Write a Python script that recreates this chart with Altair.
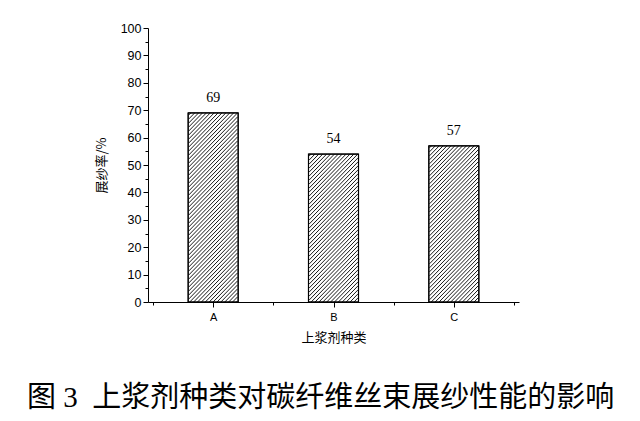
import altair as alt
import pandas as pd
import numpy as np

# ---- data ----
categories = ["A", "B", "C"]
values = [69, 54, 57]
y_ticks = list(range(0, 101, 5))
x_title = "上浆剂种类"
y_title = "展纱率/%"
caption = "图 3\u2002上浆剂种类对碳纤维丝束展纱性能的影响"

# ---- layout (style) ----
W, H = 371, 274
BAR_PX = 50
HATCH_STEP = 4.0
x_domain = [0, len(categories)]
y_domain = [0, 100]
px_per_x = W / (x_domain[1] - x_domain[0])
px_per_y = H / (y_domain[1] - y_domain[0])

pos = [i + 0.5 for i in range(len(categories))]
bars = pd.DataFrame({"cat": categories, "pos": pos, "val": values})

# hatch segments (diagonal "////") clipped to each bar, derived from the bar values
segs = []
for c, p, v in zip(categories, pos, values):
    w = BAR_PX
    h = v * px_per_y
    x0 = p - (BAR_PX / 2) / px_per_x
    cval = -h + HATCH_STEP / 2
    while cval < w:
        ya = max(0.0, -cval)
        yb = min(h, w - cval)
        if yb > ya:
            xa, xb = ya + cval, yb + cval
            segs.append({
                "pos": x0 + xa / px_per_x, "val": ya / px_per_y,
                "pos2": x0 + xb / px_per_x, "val2": yb / px_per_y,
            })
        cval += HATCH_STEP
hatch = pd.DataFrame(segs)

lab_expr = "datum.value % 1 === 0.5 ? " + str(categories) + "[floor(datum.value)] : ''"

x_scale = alt.Scale(domain=x_domain, nice=False, zero=False)
y_scale = alt.Scale(domain=y_domain, nice=False)

x_axis = alt.Axis(
    values=[i * 0.5 for i in range(2 * len(categories) + 1)],
    labelExpr=lab_expr,
    labelOverlap=False, labelFlush=False,
    title=x_title,
    grid=False,
    domainColor="black", tickColor="black",
    tickSize={"condition": {"test": "datum.value % 1 === 0.5", "value": 5}, "value": 3},
    labelFont="Liberation Sans", labelFontSize=11, labelColor="black", labelPadding=4,
    titleFont="Noto Sans CJK SC", titleFontSize=13, titleFontWeight="normal",
    titleColor="black", titlePadding=9,
)
y_axis = alt.Axis(
    values=y_ticks,
    labelExpr="datum.value % 10 === 0 ? datum.label : ''",
    labelOverlap=False, labelFlush=False,
    title=y_title,
    grid=False,
    domainColor="black", tickColor="black",
    tickSize={"condition": {"test": "datum.value % 10 === 0", "value": 5}, "value": 3},
    labelFont="Liberation Sans", labelFontSize=12.5, labelColor="black", labelPadding=2,
    titleFont="Noto Sans CJK SC", titleFontSize=13, titleFontWeight="normal",
    titleColor="black", titlePadding=12,
)

X = alt.X("pos:Q", scale=x_scale, axis=x_axis)
Y = alt.Y("val:Q", scale=y_scale, axis=y_axis)

base = alt.Chart(bars)
bar_layer = base.mark_bar(size=BAR_PX, fill="white", stroke="black", strokeWidth=1).encode(
    x=X, y=Y,
)
hatch_layer = alt.Chart(hatch).mark_rule(color="black", strokeWidth=0.9).encode(
    x=X, y=Y, x2="pos2:Q", y2="val2:Q",
)
outline = base.mark_bar(size=BAR_PX, fillOpacity=0, stroke="black", strokeWidth=1.2).encode(
    x=X, y=Y,
)
text_layer = base.mark_text(font="Liberation Serif", fontSize=14, color="black",
                            baseline="middle", dy=-15).encode(
    x=X, y=Y, text="val:Q",
)

chart = alt.layer(bar_layer, hatch_layer, outline, text_layer).properties(
    width=W, height=H,
    autosize=alt.AutoSizeParams(type="none"),
    padding={"left": 140, "top": 20, "right": 113, "bottom": 111},
    title=alt.TitleParams(
        text=caption, orient="bottom", anchor="middle",
        font="Liberation Serif, Noto Sans CJK SC", fontSize=29, fontWeight="normal",
        color="black", offset=40, dx=-13,
    ),
).configure(
    background="white",
    view=alt.ViewConfig(stroke="transparent", strokeWidth=0),
)

chart.save("out.html", embed_options={"renderer": "svg", "actions": False})
